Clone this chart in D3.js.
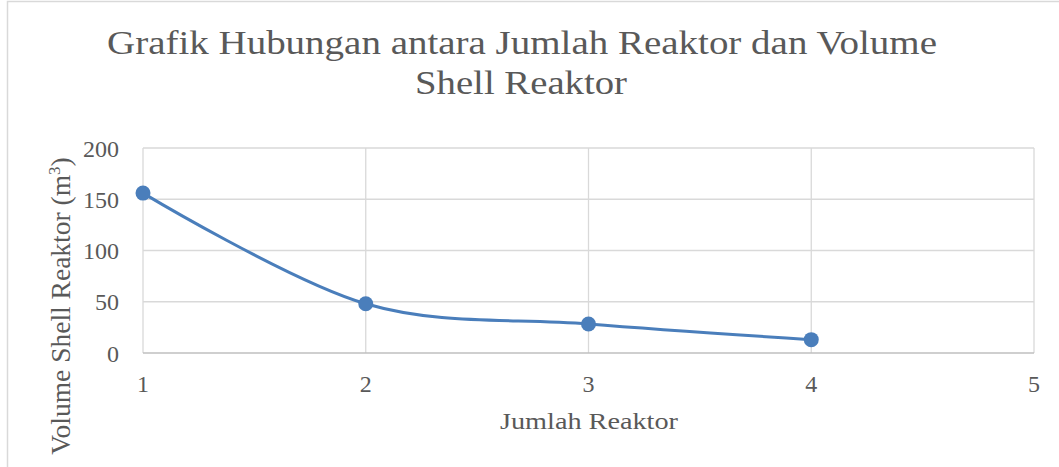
<!DOCTYPE html>
<html>
<head>
<meta charset="utf-8">
<script src="https://cdn.jsdelivr.net/npm/d3@7"></script>
<style>
  html, body { margin: 0; padding: 0; background: #fff; }
  svg { display: block; }
</style>
</head>
<body>
<script>
// jumlah reaktor vs volume shell (m3)
const jumlahReaktor = [1, 2, 3, 4];
const volumeShell = [156, 48, 28.3, 13];
const xTicks = [1, 2, 3, 4, 5];
const yTicks = [0, 50, 100, 150, 200];

const width = 1059, height = 467;
const marginLeft = 143, marginRight = 25, marginTop = 148, marginBottom = 114;
const font = "'Liberation Serif', 'DejaVu Serif', serif";
const textColor = "#595959";

const x = d3.scaleLinear()
    .domain([1, 5])
    .range([marginLeft, width - marginRight]);

const y = d3.scaleLinear()
    .domain([0, 200])
    .range([height - marginBottom, marginTop]);

const svg = d3.select("body").append("svg")
    .attr("width", width)
    .attr("height", height);

// chart area border (only top/left visible in crop)
svg.append("rect")
    .attr("x", 7.5)
    .attr("y", 1.5)
    .attr("width", width + 20)
    .attr("height", height + 20)
    .attr("fill", "#fff")
    .attr("stroke", "#d9d9d9")
    .attr("stroke-width", 1.5);

// gridlines
svg.append("g")
    .attr("stroke", "#d9d9d9")
    .attr("stroke-width", 1.3)
    .selectAll("line.h")
    .data(yTicks.filter(d => d > 0))
    .join("line")
    .attr("x1", x(1))
    .attr("x2", x(5))
    .attr("y1", d => y(d))
    .attr("y2", d => y(d));

svg.append("g")
    .attr("stroke", "#d9d9d9")
    .attr("stroke-width", 1.3)
    .selectAll("line.v")
    .data(xTicks)
    .join("line")
    .attr("x1", d => x(d))
    .attr("x2", d => x(d))
    .attr("y1", y(200))
    .attr("y2", y(0));

// x axis base line
svg.append("line")
    .attr("x1", x(1))
    .attr("x2", x(5))
    .attr("y1", y(0))
    .attr("y2", y(0))
    .attr("stroke", "#bfbfbf")
    .attr("stroke-width", 1.5);

// tick labels
svg.append("g")
    .attr("font-family", font)
    .attr("font-size", 24)
    .attr("fill", textColor)
    .attr("text-anchor", "end")
    .selectAll("text")
    .data(yTicks)
    .join("text")
    .attr("x", marginLeft - 24)
    .attr("y", d => y(d) + 8.5)
    .text(d => d);

svg.append("g")
    .attr("font-family", font)
    .attr("font-size", 24)
    .attr("fill", textColor)
    .attr("text-anchor", "middle")
    .selectAll("text")
    .data(xTicks)
    .join("text")
    .attr("x", d => x(d))
    .attr("y", y(0) + 39)
    .text(d => d);

// series
const pts = jumlahReaktor.map((d, i) => [d, volumeShell[i]]);

svg.append("path")
    .datum(pts)
    .attr("fill", "none")
    .attr("stroke", "#4a7ebb")
    .attr("stroke-width", 3)
    .attr("stroke-linecap", "round")
    .attr("d", d3.line()
        .x(d => x(d[0]))
        .y(d => y(d[1]))
        .curve(d3.curveCardinal.tension(0)));

svg.append("g")
    .attr("fill", "#4a7ebb")
    .selectAll("circle")
    .data(pts)
    .join("circle")
    .attr("cx", d => x(d[0]))
    .attr("cy", d => y(d[1]))
    .attr("r", 7.5);

// titles
svg.append("text")
    .attr("x", 522)
    .attr("y", 54)
    .attr("text-anchor", "middle")
    .attr("font-family", font)
    .attr("font-size", 34)
    .attr("fill", textColor)
    .attr("textLength", 830)
    .attr("lengthAdjust", "spacingAndGlyphs")
    .text("Grafik Hubungan antara Jumlah Reaktor dan Volume");

svg.append("text")
    .attr("x", 521)
    .attr("y", 94)
    .attr("text-anchor", "middle")
    .attr("font-family", font)
    .attr("font-size", 34)
    .attr("fill", textColor)
    .attr("textLength", 212)
    .attr("lengthAdjust", "spacingAndGlyphs")
    .text("Shell Reaktor");

svg.append("text")
    .attr("x", 589)
    .attr("y", 429)
    .attr("text-anchor", "middle")
    .attr("font-family", font)
    .attr("font-size", 24)
    .attr("fill", textColor)
    .attr("textLength", 178)
    .attr("lengthAdjust", "spacingAndGlyphs")
    .text("Jumlah Reaktor");

const yLabel = svg.append("text")
    .attr("transform", "translate(70,306) rotate(-90)")
    .attr("text-anchor", "middle")
    .attr("font-family", font)
    .attr("font-size", 27.5)
    .attr("fill", textColor);
yLabel.append("tspan").text("Volume Shell Reaktor (m");
yLabel.append("tspan")
    .attr("font-size", 17)
    .attr("dy", -10)
    .text("3");
yLabel.append("tspan")
    .attr("dy", 10)
    .text(")");
</script>
</body>
</html>
